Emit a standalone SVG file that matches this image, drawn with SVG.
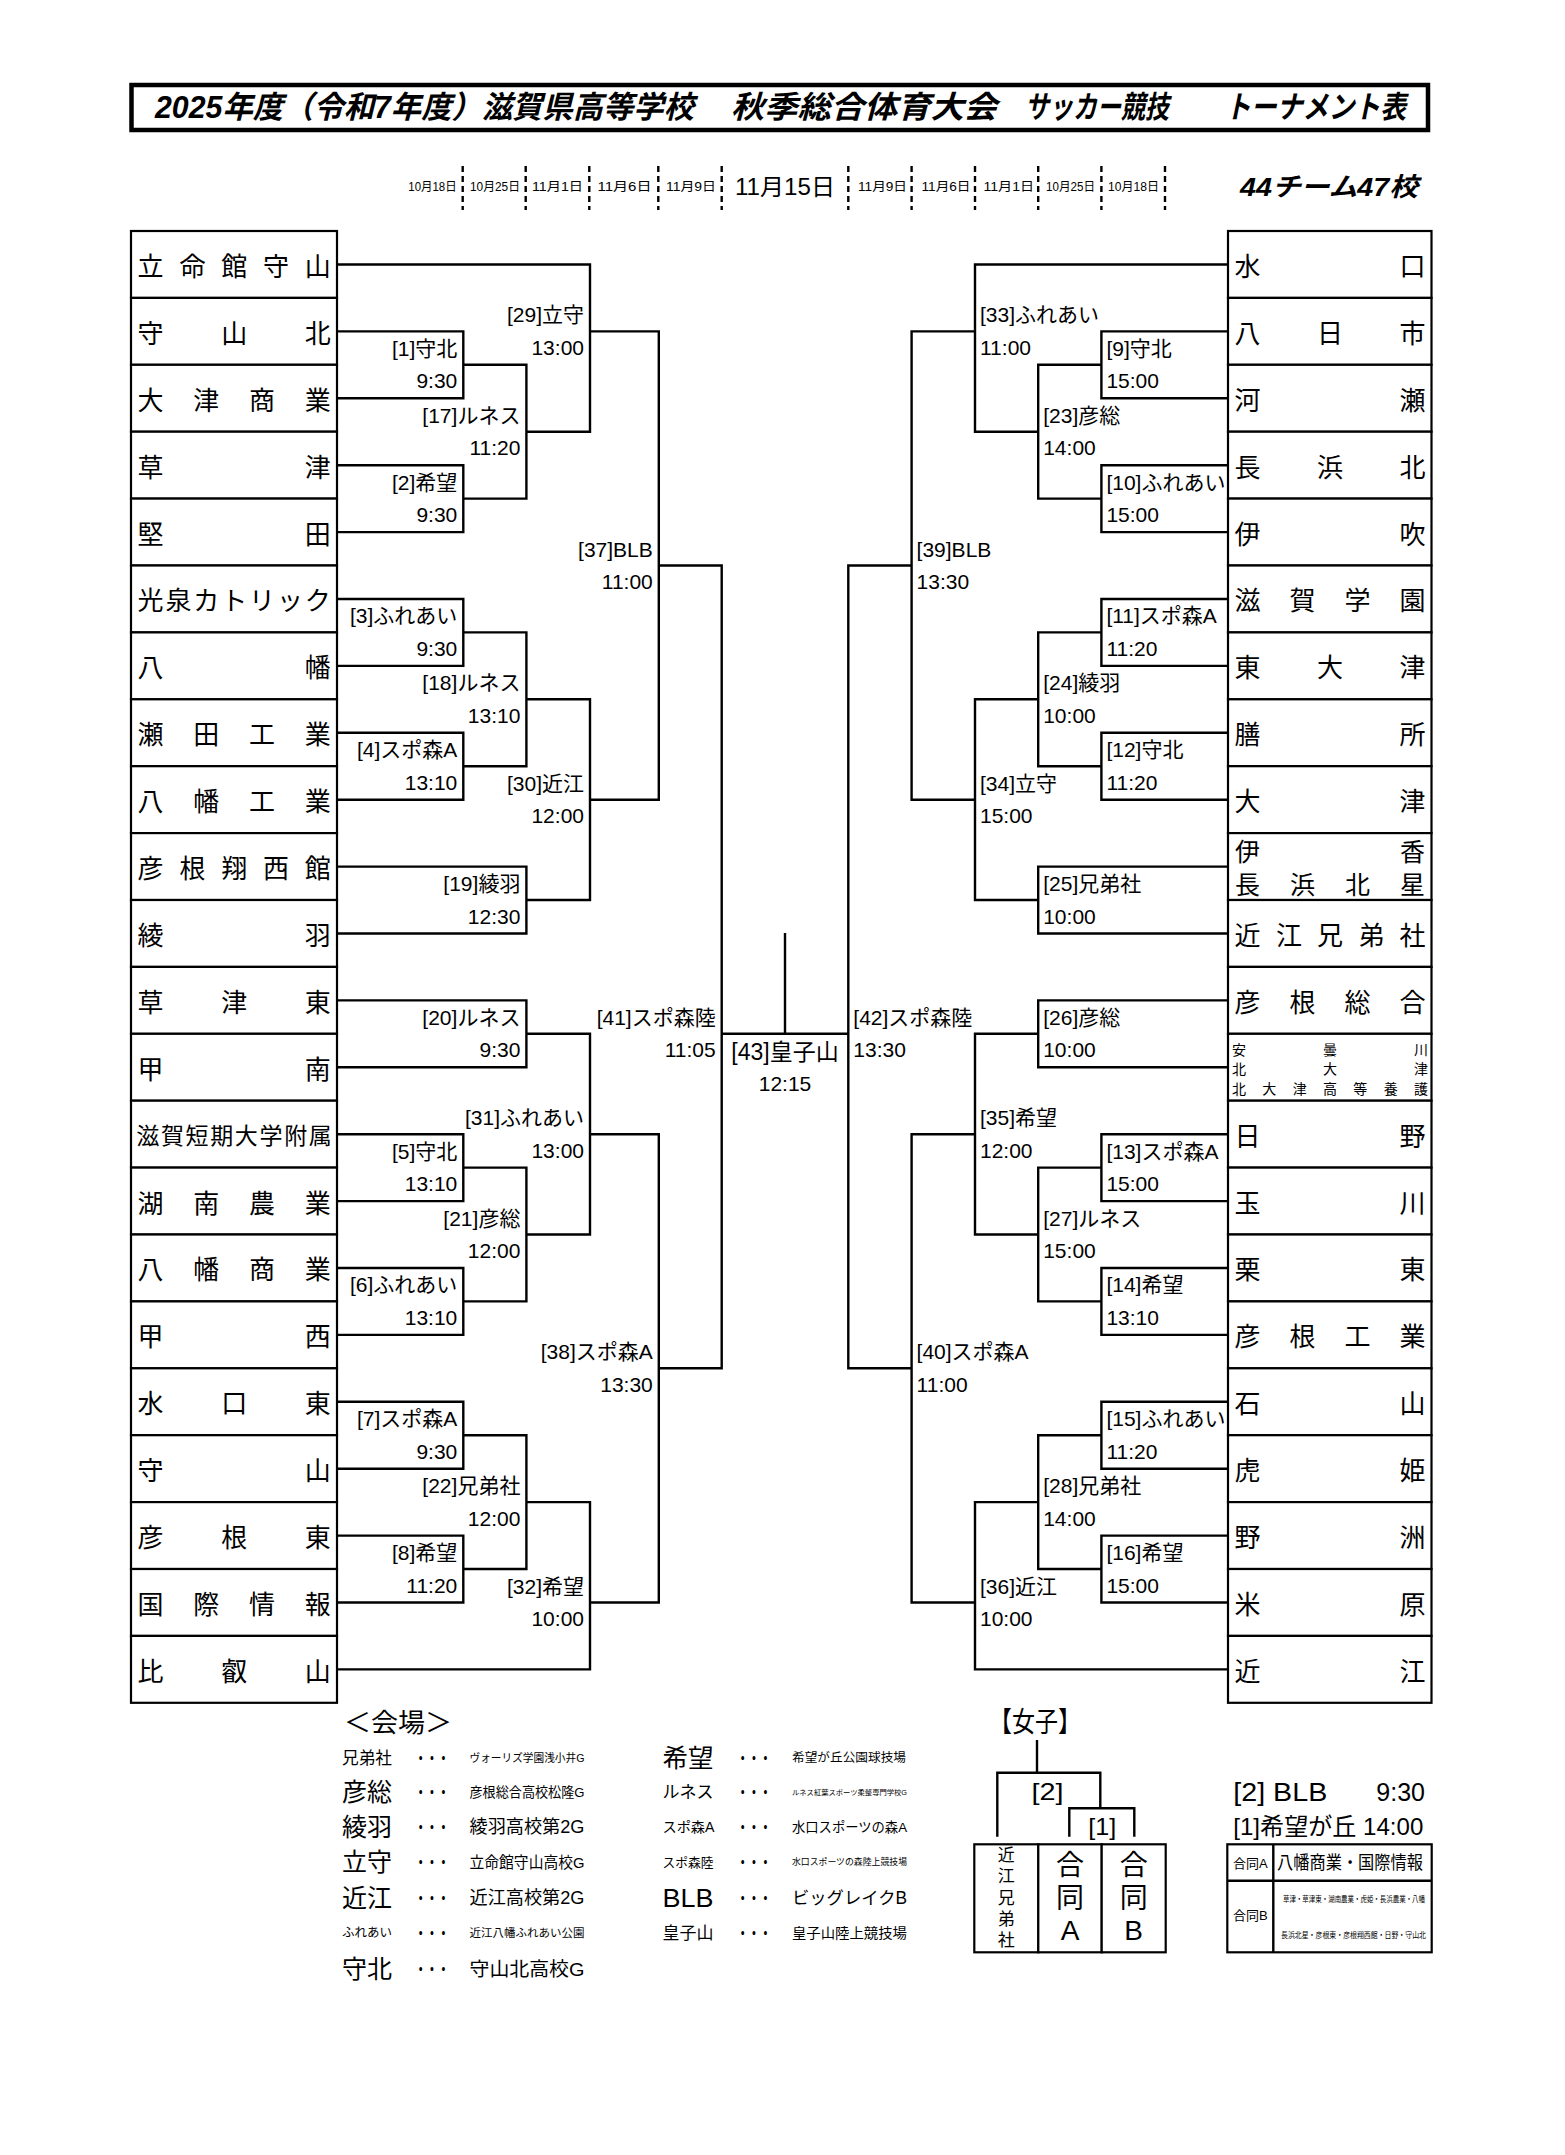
<svg xmlns="http://www.w3.org/2000/svg" width="1565" height="2155" viewBox="0 0 1565 2155">
<style>
.box{fill:#fff;stroke:#000;stroke-width:2.2}
.ln{fill:none;stroke:#000;stroke-width:2.4}
.dash{fill:none;stroke:#000;stroke-width:2.4;stroke-dasharray:6 4}
.tm{font-family:"Noto Sans CJK JP",sans-serif;font-size:26px;dominant-baseline:central;text-anchor:middle}
.ts{font-family:"Noto Sans CJK JP",sans-serif;font-size:14px;dominant-baseline:central;text-anchor:middle}
.lb{font-family:"Liberation Sans","Noto Sans CJK JP",sans-serif;font-size:21px;dominant-baseline:central}
.e{text-anchor:end}
.m{text-anchor:middle}
.ttl{font-family:"Liberation Sans","Noto Sans CJK JP",sans-serif;font-size:31px;font-weight:bold;font-style:italic;dominant-baseline:central}
.dt{font-family:"Liberation Sans","Noto Sans CJK JP",sans-serif;font-size:12px;dominant-baseline:central}
.lg{font-family:"Liberation Sans","Noto Sans CJK JP",sans-serif;dominant-baseline:central}
</style>
<rect width="1565" height="2155" fill="#fff"/>

<g id="title">
<rect x="131.5" y="85" width="1296.5" height="45" fill="#fff" stroke="#000" stroke-width="4.5"/>
<text class="ttl" x="155" y="107.5" textLength="539" lengthAdjust="spacingAndGlyphs">2025年度（令和7年度）滋賀県高等学校</text>
<text class="ttl" x="731" y="107.5" textLength="266" lengthAdjust="spacingAndGlyphs">秋季総合体育大会</text>
<text class="ttl" x="1025" y="107.5" textLength="144" lengthAdjust="spacingAndGlyphs">サッカー競技</text>
<text class="ttl" x="1225" y="107.5" textLength="181" lengthAdjust="spacingAndGlyphs">トーナメント表</text>
</g>

<g id="header">
<path class="dash" d="M462.7 166V210M525.7 166V210M589.3 166V210M658.3 166V210M721.7 166V210M848.3 166V210M911.6 166V210M975 166V210M1038.2 166V210M1101.4 166V210M1165 166V210"/>
<text class="dt" x="408.3" y="187" textLength="48.4" lengthAdjust="spacingAndGlyphs">10月18日</text>
<text class="dt" x="470" y="187" textLength="50" lengthAdjust="spacingAndGlyphs">10月25日</text>
<text class="dt" x="532" y="187" textLength="51" lengthAdjust="spacingAndGlyphs">11月1日</text>
<text class="dt" x="597.5" y="187" textLength="54" lengthAdjust="spacingAndGlyphs">11月6日</text>
<text class="dt" x="666" y="187" textLength="50" lengthAdjust="spacingAndGlyphs">11月9日</text>
<text class="dt" x="735" y="187" style="font-size:23px" textLength="100" lengthAdjust="spacingAndGlyphs">11月15日</text>
<text class="dt" x="858" y="187" textLength="49" lengthAdjust="spacingAndGlyphs">11月9日</text>
<text class="dt" x="921.5" y="187" textLength="49" lengthAdjust="spacingAndGlyphs">11月6日</text>
<text class="dt" x="983.5" y="187" textLength="50.5" lengthAdjust="spacingAndGlyphs">11月1日</text>
<text class="dt" x="1046" y="187" textLength="49" lengthAdjust="spacingAndGlyphs">10月25日</text>
<text class="dt" x="1108" y="187" textLength="51" lengthAdjust="spacingAndGlyphs">10月18日</text>
<text class="ttl" x="1240" y="187" style="font-size:26px" textLength="178" lengthAdjust="spacingAndGlyphs">44チーム47校</text>
</g>

<g id="teams-left">
<g id="L01"><rect class="box" x="131" y="231" width="206" height="66.9"/><text class="tm" x="150.6 192.4 234.2 276 317.7" y="264.45">立命館守山</text></g>
<g id="L02"><rect class="box" x="131" y="297.9" width="206" height="66.9"/><text class="tm" x="150.6 234.2 317.7" y="331.35">守山北</text></g>
<g id="L03"><rect class="box" x="131" y="364.8" width="206" height="66.9"/><text class="tm" x="150.6 206.3 262 317.7" y="398.25">大津商業</text></g>
<g id="L04"><rect class="box" x="131" y="431.7" width="206" height="66.9"/><text class="tm" x="150.6 317.7" y="465.15">草津</text></g>
<g id="L05"><rect class="box" x="131" y="498.6" width="206" height="66.9"/><text class="tm" x="150.6 317.7" y="532.05">堅田</text></g>
<g id="L06"><rect class="box" x="131" y="565.5" width="206" height="66.9"/><text class="tm" x="150.6 178.4 206.3 234.2 262 289.9 317.7" y="598.95">光泉カトリック</text></g>
<g id="L07"><rect class="box" x="131" y="632.4" width="206" height="66.9"/><text class="tm" x="150.6 317.7" y="665.85">八幡</text></g>
<g id="L08"><rect class="box" x="131" y="699.3" width="206" height="66.9"/><text class="tm" x="150.6 206.3 262 317.7" y="732.75">瀬田工業</text></g>
<g id="L09"><rect class="box" x="131" y="766.2" width="206" height="66.9"/><text class="tm" x="150.6 206.3 262 317.7" y="799.65">八幡工業</text></g>
<g id="L10"><rect class="box" x="131" y="833.1" width="206" height="66.9"/><text class="tm" x="150.6 192.4 234.2 276 317.7" y="866.55">彦根翔西館</text></g>
<g id="L11"><rect class="box" x="131" y="900" width="206" height="66.9"/><text class="tm" x="150.6 317.7" y="933.45">綾羽</text></g>
<g id="L12"><rect class="box" x="131" y="966.9" width="206" height="66.9"/><text class="tm" x="150.6 234.2 317.7" y="1000.35">草津東</text></g>
<g id="L13"><rect class="box" x="131" y="1033.8" width="206" height="66.9"/><text class="tm" x="150.6 317.7" y="1067.25">甲南</text></g>
<g id="L14"><rect class="box" x="131" y="1100.7" width="206" height="66.9"/><text class="tm" style="font-size:23px" x="147.7 172.4 197 221.7 246.3 271 295.7 320.3" y="1134.15">滋賀短期大学附属</text></g>
<g id="L15"><rect class="box" x="131" y="1167.6" width="206" height="66.9"/><text class="tm" x="150.6 206.3 262 317.7" y="1201.05">湖南農業</text></g>
<g id="L16"><rect class="box" x="131" y="1234.5" width="206" height="66.9"/><text class="tm" x="150.6 206.3 262 317.7" y="1267.95">八幡商業</text></g>
<g id="L17"><rect class="box" x="131" y="1301.4" width="206" height="66.9"/><text class="tm" x="150.6 317.7" y="1334.85">甲西</text></g>
<g id="L18"><rect class="box" x="131" y="1368.3" width="206" height="66.9"/><text class="tm" x="150.6 234.2 317.7" y="1401.75">水口東</text></g>
<g id="L19"><rect class="box" x="131" y="1435.2" width="206" height="66.9"/><text class="tm" x="150.6 317.7" y="1468.65">守山</text></g>
<g id="L20"><rect class="box" x="131" y="1502.1" width="206" height="66.9"/><text class="tm" x="150.6 234.2 317.7" y="1535.55">彦根東</text></g>
<g id="L21"><rect class="box" x="131" y="1569" width="206" height="66.9"/><text class="tm" x="150.6 206.3 262 317.7" y="1602.45">国際情報</text></g>
<g id="L22"><rect class="box" x="131" y="1635.9" width="206" height="66.9"/><text class="tm" x="150.6 234.2 317.7" y="1669.35">比叡山</text></g>
</g>

<g id="teams-right">
<g id="R01"><rect class="box" x="1228" y="231" width="203.5" height="66.9"/><text class="tm" x="1247.6 1412.6" y="264.45">水口</text></g>
<g id="R02"><rect class="box" x="1228" y="297.9" width="203.5" height="66.9"/><text class="tm" x="1247.6 1330.1 1412.6" y="331.35">八日市</text></g>
<g id="R03"><rect class="box" x="1228" y="364.8" width="203.5" height="66.9"/><text class="tm" x="1247.6 1412.6" y="398.25">河瀬</text></g>
<g id="R04"><rect class="box" x="1228" y="431.7" width="203.5" height="66.9"/><text class="tm" x="1247.6 1330.1 1412.6" y="465.15">長浜北</text></g>
<g id="R05"><rect class="box" x="1228" y="498.6" width="203.5" height="66.9"/><text class="tm" x="1247.6 1412.6" y="532.05">伊吹</text></g>
<g id="R06"><rect class="box" x="1228" y="565.5" width="203.5" height="66.9"/><text class="tm" x="1247.6 1302.6 1357.6 1412.6" y="598.95">滋賀学園</text></g>
<g id="R07"><rect class="box" x="1228" y="632.4" width="203.5" height="66.9"/><text class="tm" x="1247.6 1330.1 1412.6" y="665.85">東大津</text></g>
<g id="R08"><rect class="box" x="1228" y="699.3" width="203.5" height="66.9"/><text class="tm" x="1247.6 1412.6" y="732.75">膳所</text></g>
<g id="R09"><rect class="box" x="1228" y="766.2" width="203.5" height="66.9"/><text class="tm" x="1247.6 1412.6" y="799.65">大津</text></g>
<g id="R10"><rect class="box" x="1228" y="833.1" width="203.5" height="66.9"/><text class="tm" style="font-size:25px" x="1247.6 1412.6" y="850">伊香</text><text class="tm" style="font-size:25px" x="1247.6 1302.6 1357.6 1412.6" y="882.5">長浜北星</text></g>
<g id="R11"><rect class="box" x="1228" y="900" width="203.5" height="66.9"/><text class="tm" x="1247.6 1288.9 1330.1 1371.4 1412.6" y="933.45">近江兄弟社</text></g>
<g id="R12"><rect class="box" x="1228" y="966.9" width="203.5" height="66.9"/><text class="tm" x="1247.6 1302.6 1357.6 1412.6" y="1000.35">彦根総合</text></g>
<g id="R13"><rect class="box" x="1228" y="1033.8" width="203.5" height="66.9"/><text class="ts" x="1239 1330 1421" y="1048.5">安曇川</text><text class="ts" x="1239 1330 1421" y="1068">北大津</text><text class="ts" x="1239 1269.3 1299.7 1330 1360.3 1390.7 1421" y="1087.5">北大津高等養護</text></g>
<g id="R14"><rect class="box" x="1228" y="1100.7" width="203.5" height="66.9"/><text class="tm" x="1247.6 1412.6" y="1134.15">日野</text></g>
<g id="R15"><rect class="box" x="1228" y="1167.6" width="203.5" height="66.9"/><text class="tm" x="1247.6 1412.6" y="1201.05">玉川</text></g>
<g id="R16"><rect class="box" x="1228" y="1234.5" width="203.5" height="66.9"/><text class="tm" x="1247.6 1412.6" y="1267.95">栗東</text></g>
<g id="R17"><rect class="box" x="1228" y="1301.4" width="203.5" height="66.9"/><text class="tm" x="1247.6 1302.6 1357.6 1412.6" y="1334.85">彦根工業</text></g>
<g id="R18"><rect class="box" x="1228" y="1368.3" width="203.5" height="66.9"/><text class="tm" x="1247.6 1412.6" y="1401.75">石山</text></g>
<g id="R19"><rect class="box" x="1228" y="1435.2" width="203.5" height="66.9"/><text class="tm" x="1247.6 1412.6" y="1468.65">虎姫</text></g>
<g id="R20"><rect class="box" x="1228" y="1502.1" width="203.5" height="66.9"/><text class="tm" x="1247.6 1412.6" y="1535.55">野洲</text></g>
<g id="R21"><rect class="box" x="1228" y="1569" width="203.5" height="66.9"/><text class="tm" x="1247.6 1412.6" y="1602.45">米原</text></g>
<g id="R22"><rect class="box" x="1228" y="1635.9" width="203.5" height="66.9"/><text class="tm" x="1247.6 1412.6" y="1669.35">近江</text></g>
</g>

<g id="connectors" class="ln">
<path d="M337 331.4H463.3V398.3H337"/>
<path d="M337 465.2H463.3V532.1H337"/>
<path d="M463.3 364.8H526.4V498.6H463.3"/>
<path d="M337 264.5H590V431.7H526.4"/>
<path d="M337 599H463.3V665.9H337"/>
<path d="M337 732.8H463.3V799.7H337"/>
<path d="M463.3 632.4H526.4V766.2H463.3"/>
<path d="M337 866.6H526.4V933.5H337"/>
<path d="M526.4 699.3H590V900H526.4"/>
<path d="M590 331.4H658.8V799.7H590"/>
<path d="M337 1000.4H526.4V1067.3H337"/>
<path d="M337 1134.2H463.3V1201.1H337"/>
<path d="M337 1268H463.3V1334.9H337"/>
<path d="M463.3 1167.6H526.4V1301.4H463.3"/>
<path d="M526.4 1033.8H590V1234.5H526.4"/>
<path d="M337 1401.8H463.3V1468.7H337"/>
<path d="M337 1535.6H463.3V1602.5H337"/>
<path d="M463.3 1435.2H526.4V1569H463.3"/>
<path d="M526.4 1502.1H590V1669.4H337"/>
<path d="M590 1134.2H658.8V1602.5H590"/>
<path d="M658.8 565.5H721.7V1368.3H658.8"/>
<path d="M721.7 1033.8H848.3"/>
<path d="M785 933V1033.8"/>
<path d="M911.6 565.5H848.3V1368.3H911.6"/>
<path d="M1228 331.4H1101.4V398.3H1228"/>
<path d="M1228 465.2H1101.4V532.1H1228"/>
<path d="M1101.4 364.8H1038.2V498.6H1101.4"/>
<path d="M1228 264.5H975V431.7H1038.2"/>
<path d="M1228 599H1101.4V665.9H1228"/>
<path d="M1228 732.8H1101.4V799.7H1228"/>
<path d="M1101.4 632.4H1038.2V766.2H1101.4"/>
<path d="M1228 866.6H1038.2V933.5H1228"/>
<path d="M1038.2 699.3H975V900H1038.2"/>
<path d="M975 331.4H911.6V799.7H975"/>
<path d="M1228 1000.4H1038.2V1067.3H1228"/>
<path d="M1228 1134.2H1101.4V1201.1H1228"/>
<path d="M1228 1268H1101.4V1334.9H1228"/>
<path d="M1101.4 1167.6H1038.2V1301.4H1101.4"/>
<path d="M1038.2 1033.8H975V1234.5H1038.2"/>
<path d="M1228 1401.8H1101.4V1468.7H1228"/>
<path d="M1228 1535.6H1101.4V1602.5H1228"/>
<path d="M1101.4 1435.2H1038.2V1569H1101.4"/>
<path d="M1038.2 1502.1H975V1669.4H1228"/>
<path d="M975 1134.2H911.6V1602.5H975"/>
</g>

<g id="match-labels" class="lb">
<text class="e" x="457.3" y="348.3">[1]守北</text><text class="e" x="457.3" y="380.8">9:30</text>
<text class="e" x="457.3" y="482.1">[2]希望</text><text class="e" x="457.3" y="514.6">9:30</text>
<text class="e" x="520.4" y="415.2">[17]ルネス</text><text class="e" x="520.4" y="447.7">11:20</text>
<text class="e" x="584" y="314.9">[29]立守</text><text class="e" x="584" y="347.4">13:00</text>
<text class="e" x="457.3" y="615.9">[3]ふれあい</text><text class="e" x="457.3" y="648.4">9:30</text>
<text class="e" x="457.3" y="749.7">[4]スポ森A</text><text class="e" x="457.3" y="782.2">13:10</text>
<text class="e" x="520.4" y="682.8">[18]ルネス</text><text class="e" x="520.4" y="715.3">13:10</text>
<text class="e" x="520.4" y="883.5">[19]綾羽</text><text class="e" x="520.4" y="916">12:30</text>
<text class="e" x="584" y="783.2">[30]近江</text><text class="e" x="584" y="815.7">12:00</text>
<text class="e" x="652.8" y="549">[37]BLB</text><text class="e" x="652.8" y="581.5">11:00</text>
<text class="e" x="520.4" y="1017.3">[20]ルネス</text><text class="e" x="520.4" y="1049.8">9:30</text>
<text class="e" x="457.3" y="1151.1">[5]守北</text><text class="e" x="457.3" y="1183.6">13:10</text>
<text class="e" x="457.3" y="1284.9">[6]ふれあい</text><text class="e" x="457.3" y="1317.4">13:10</text>
<text class="e" x="520.4" y="1218">[21]彦総</text><text class="e" x="520.4" y="1250.5">12:00</text>
<text class="e" x="584" y="1117.7">[31]ふれあい</text><text class="e" x="584" y="1150.2">13:00</text>
<text class="e" x="457.3" y="1418.7">[7]スポ森A</text><text class="e" x="457.3" y="1451.2">9:30</text>
<text class="e" x="457.3" y="1552.5">[8]希望</text><text class="e" x="457.3" y="1585">11:20</text>
<text class="e" x="520.4" y="1485.6">[22]兄弟社</text><text class="e" x="520.4" y="1518.1">12:00</text>
<text class="e" x="584" y="1586">[32]希望</text><text class="e" x="584" y="1618.5">10:00</text>
<text class="e" x="652.8" y="1351.8">[38]スポ森A</text><text class="e" x="652.8" y="1384.3">13:30</text>
<text class="e" x="715.7" y="1017.3">[41]スポ森陸</text><text class="e" x="715.7" y="1049.8">11:05</text>
<text class="m" x="785" y="1051.7" style="font-size:23px">[43]皇子山</text><text class="m" x="785" y="1083">12:15</text>
<text x="853.3" y="1017.3">[42]スポ森陸</text><text x="853.3" y="1049.8">13:30</text>
<text x="980" y="314.9">[33]ふれあい</text><text x="980" y="347.4">11:00</text>
<text x="1106.4" y="348.3">[9]守北</text><text x="1106.4" y="380.8">15:00</text>
<text x="1043.2" y="415.2">[23]彦総</text><text x="1043.2" y="447.7">14:00</text>
<text x="1106.4" y="482.1">[10]ふれあい</text><text x="1106.4" y="514.6">15:00</text>
<text x="916.6" y="549">[39]BLB</text><text x="916.6" y="581.5">13:30</text>
<text x="1106.4" y="615.9">[11]スポ森A</text><text x="1106.4" y="648.4">11:20</text>
<text x="1043.2" y="682.8">[24]綾羽</text><text x="1043.2" y="715.3">10:00</text>
<text x="1106.4" y="749.7">[12]守北</text><text x="1106.4" y="782.2">11:20</text>
<text x="980" y="783.2">[34]立守</text><text x="980" y="815.7">15:00</text>
<text x="1043.2" y="883.5">[25]兄弟社</text><text x="1043.2" y="916">10:00</text>
<text x="1043.2" y="1017.3">[26]彦総</text><text x="1043.2" y="1049.8">10:00</text>
<text x="980" y="1117.7">[35]希望</text><text x="980" y="1150.2">12:00</text>
<text x="1106.4" y="1151.1">[13]スポ森A</text><text x="1106.4" y="1183.6">15:00</text>
<text x="1043.2" y="1218">[27]ルネス</text><text x="1043.2" y="1250.5">15:00</text>
<text x="1106.4" y="1284.9">[14]希望</text><text x="1106.4" y="1317.4">13:10</text>
<text x="916.6" y="1351.8">[40]スポ森A</text><text x="916.6" y="1384.3">11:00</text>
<text x="1106.4" y="1418.7">[15]ふれあい</text><text x="1106.4" y="1451.2">11:20</text>
<text x="1043.2" y="1485.6">[28]兄弟社</text><text x="1043.2" y="1518.1">14:00</text>
<text x="1106.4" y="1552.5">[16]希望</text><text x="1106.4" y="1585">15:00</text>
<text x="980" y="1586">[36]近江</text><text x="980" y="1618.5">10:00</text>
</g>

<g id="legend" class="lg">
<text x="344" y="1723" style="font-size:26px" textLength="108" lengthAdjust="spacingAndGlyphs">＜会場＞</text>
<text x="342" y="1758" style="font-size:17px" textLength="50" lengthAdjust="spacingAndGlyphs">兄弟社</text>
<text x="342" y="1792" style="font-size:25px" textLength="50" lengthAdjust="spacingAndGlyphs">彦総</text>
<text x="342" y="1827" style="font-size:25px" textLength="50" lengthAdjust="spacingAndGlyphs">綾羽</text>
<text x="342" y="1862" style="font-size:25px" textLength="50" lengthAdjust="spacingAndGlyphs">立守</text>
<text x="342" y="1898" style="font-size:25px" textLength="50" lengthAdjust="spacingAndGlyphs">近江</text>
<text x="342" y="1933" style="font-size:12.5px" textLength="50" lengthAdjust="spacingAndGlyphs">ふれあい</text>
<text x="342" y="1969" style="font-size:25px" textLength="50" lengthAdjust="spacingAndGlyphs">守北</text>
<g style="font-size:16px;font-weight:bold">
<text x="415" y="1758" textLength="34" lengthAdjust="spacingAndGlyphs">・・・</text>
<text x="415" y="1792" textLength="34" lengthAdjust="spacingAndGlyphs">・・・</text>
<text x="415" y="1827" textLength="34" lengthAdjust="spacingAndGlyphs">・・・</text>
<text x="415" y="1862" textLength="34" lengthAdjust="spacingAndGlyphs">・・・</text>
<text x="415" y="1898" textLength="34" lengthAdjust="spacingAndGlyphs">・・・</text>
<text x="415" y="1933" textLength="34" lengthAdjust="spacingAndGlyphs">・・・</text>
<text x="415" y="1969" textLength="34" lengthAdjust="spacingAndGlyphs">・・・</text>
<text x="737" y="1758" textLength="34" lengthAdjust="spacingAndGlyphs">・・・</text>
<text x="737" y="1792" textLength="34" lengthAdjust="spacingAndGlyphs">・・・</text>
<text x="737" y="1827" textLength="34" lengthAdjust="spacingAndGlyphs">・・・</text>
<text x="737" y="1862" textLength="34" lengthAdjust="spacingAndGlyphs">・・・</text>
<text x="737" y="1898" textLength="34" lengthAdjust="spacingAndGlyphs">・・・</text>
<text x="737" y="1933" textLength="34" lengthAdjust="spacingAndGlyphs">・・・</text>
</g>
<text x="469.5" y="1758" style="font-size:11px" textLength="115" lengthAdjust="spacingAndGlyphs">ヴォーリズ学園浅小井G</text>
<text x="469.5" y="1792" style="font-size:13.5px" textLength="115" lengthAdjust="spacingAndGlyphs">彦根総合高校松隆G</text>
<text x="469.5" y="1827" style="font-size:18px" textLength="115" lengthAdjust="spacingAndGlyphs">綾羽高校第2G</text>
<text x="469.5" y="1862" style="font-size:15.5px" textLength="115" lengthAdjust="spacingAndGlyphs">立命館守山高校G</text>
<text x="469.5" y="1898" style="font-size:18px" textLength="115" lengthAdjust="spacingAndGlyphs">近江高校第2G</text>
<text x="469.5" y="1933" style="font-size:11.5px" textLength="115" lengthAdjust="spacingAndGlyphs">近江八幡ふれあい公園</text>
<text x="469.5" y="1969" style="font-size:19px" textLength="115" lengthAdjust="spacingAndGlyphs">守山北高校G</text>
<text x="662.5" y="1758" style="font-size:25px" textLength="51" lengthAdjust="spacingAndGlyphs">希望</text>
<text x="662.5" y="1792" style="font-size:17px" textLength="51" lengthAdjust="spacingAndGlyphs">ルネス</text>
<text x="662.5" y="1827" style="font-size:14px" textLength="52" lengthAdjust="spacingAndGlyphs">スポ森A</text>
<text x="662.5" y="1862" style="font-size:13px" textLength="51" lengthAdjust="spacingAndGlyphs">スポ森陸</text>
<text x="662.5" y="1898" style="font-size:25px" textLength="51" lengthAdjust="spacingAndGlyphs">BLB</text>
<text x="662.5" y="1933" style="font-size:17px" textLength="51" lengthAdjust="spacingAndGlyphs">皇子山</text>
<text x="792" y="1758" style="font-size:12.5px" textLength="114" lengthAdjust="spacingAndGlyphs">希望が丘公園球技場</text>
<text x="792" y="1792" style="font-size:7px" textLength="115" lengthAdjust="spacingAndGlyphs">ルネス紅葉スポーツ柔整専門学校G</text>
<text x="792" y="1827" style="font-size:13.5px" textLength="115" lengthAdjust="spacingAndGlyphs">水口スポーツの森A</text>
<text x="792" y="1862" style="font-size:9px" textLength="115" lengthAdjust="spacingAndGlyphs">水口スポーツの森陸上競技場</text>
<text x="792" y="1898" style="font-size:17.5px" textLength="115" lengthAdjust="spacingAndGlyphs">ビッグレイクB</text>
<text x="792" y="1933" style="font-size:14px" textLength="115" lengthAdjust="spacingAndGlyphs">皇子山陸上競技場</text>
</g>

<g id="womens" class="lg">
<text x="989" y="1722" style="font-size:28px" textLength="92" lengthAdjust="spacingAndGlyphs">【女子】</text>
<g id="w-connectors" class="ln">
<path d="M1037 1740V1772.7"/>
<path d="M997.3 1836.7V1772.7H1100.3V1808.3"/>
<path d="M1069.3 1836.7V1808.3H1134.3V1836.7"/>
</g>
<text class="m" x="1047.5" y="1791.7" style="font-size:24px" textLength="32" lengthAdjust="spacingAndGlyphs">[2]</text>
<text class="m" x="1102.3" y="1826.7" style="font-size:24px" textLength="28" lengthAdjust="spacingAndGlyphs">[1]</text>
<g id="w-kyodai"><rect class="box" x="974.3" y="1844.3" width="64" height="108"/><text class="m" style="font-size:17px" x="1006.3 1006.3 1006.3 1006.3 1006.3" y="1855.7 1876.7 1898.3 1919.3 1940">近江兄弟社</text></g>
<g id="w-godoA"><rect class="box" x="1038.3" y="1844.3" width="63.4" height="108"/><text class="m" style="font-size:28px" x="1070 1070 1070" y="1865 1898.3 1930.5">合同A</text></g>
<g id="w-godoB"><rect class="box" x="1101.7" y="1844.3" width="64" height="108"/><text class="m" style="font-size:28px" x="1133.7 1133.7 1133.7" y="1865 1898.3 1930.5">合同B</text></g>
<text x="1233.3" y="1791.7" style="font-size:25px" textLength="94" lengthAdjust="spacingAndGlyphs">[2] BLB</text>
<text class="e" x="1425" y="1791.7" style="font-size:25px">9:30</text>
<text x="1233.3" y="1826.7" style="font-size:24px" textLength="190" lengthAdjust="spacingAndGlyphs">[1]希望が丘 14:00</text>
<g id="w-table">
<rect class="box" x="1227.3" y="1844.3" width="204.4" height="108"/>
<path class="ln" d="M1227.3 1880.7H1431.7M1273.3 1844.3V1952.3"/>
<text class="m" x="1250.3" y="1863.3" style="font-size:13px">合同A</text>
<text x="1277" y="1863.3" style="font-size:18px" textLength="146" lengthAdjust="spacingAndGlyphs">八幡商業・国際情報</text>
<text class="m" x="1250.3" y="1915.7" style="font-size:13px">合同B</text>
<text x="1283" y="1899.3" style="font-size:8.5px" textLength="142" lengthAdjust="spacingAndGlyphs">草津・草津東・湖南農業・虎姫・長浜農業・八幡</text>
<text x="1281" y="1935" style="font-size:8.5px" textLength="145" lengthAdjust="spacingAndGlyphs">長浜北星・彦根東・彦根翔西館・日野・守山北</text>
</g>
</g>
</svg>
